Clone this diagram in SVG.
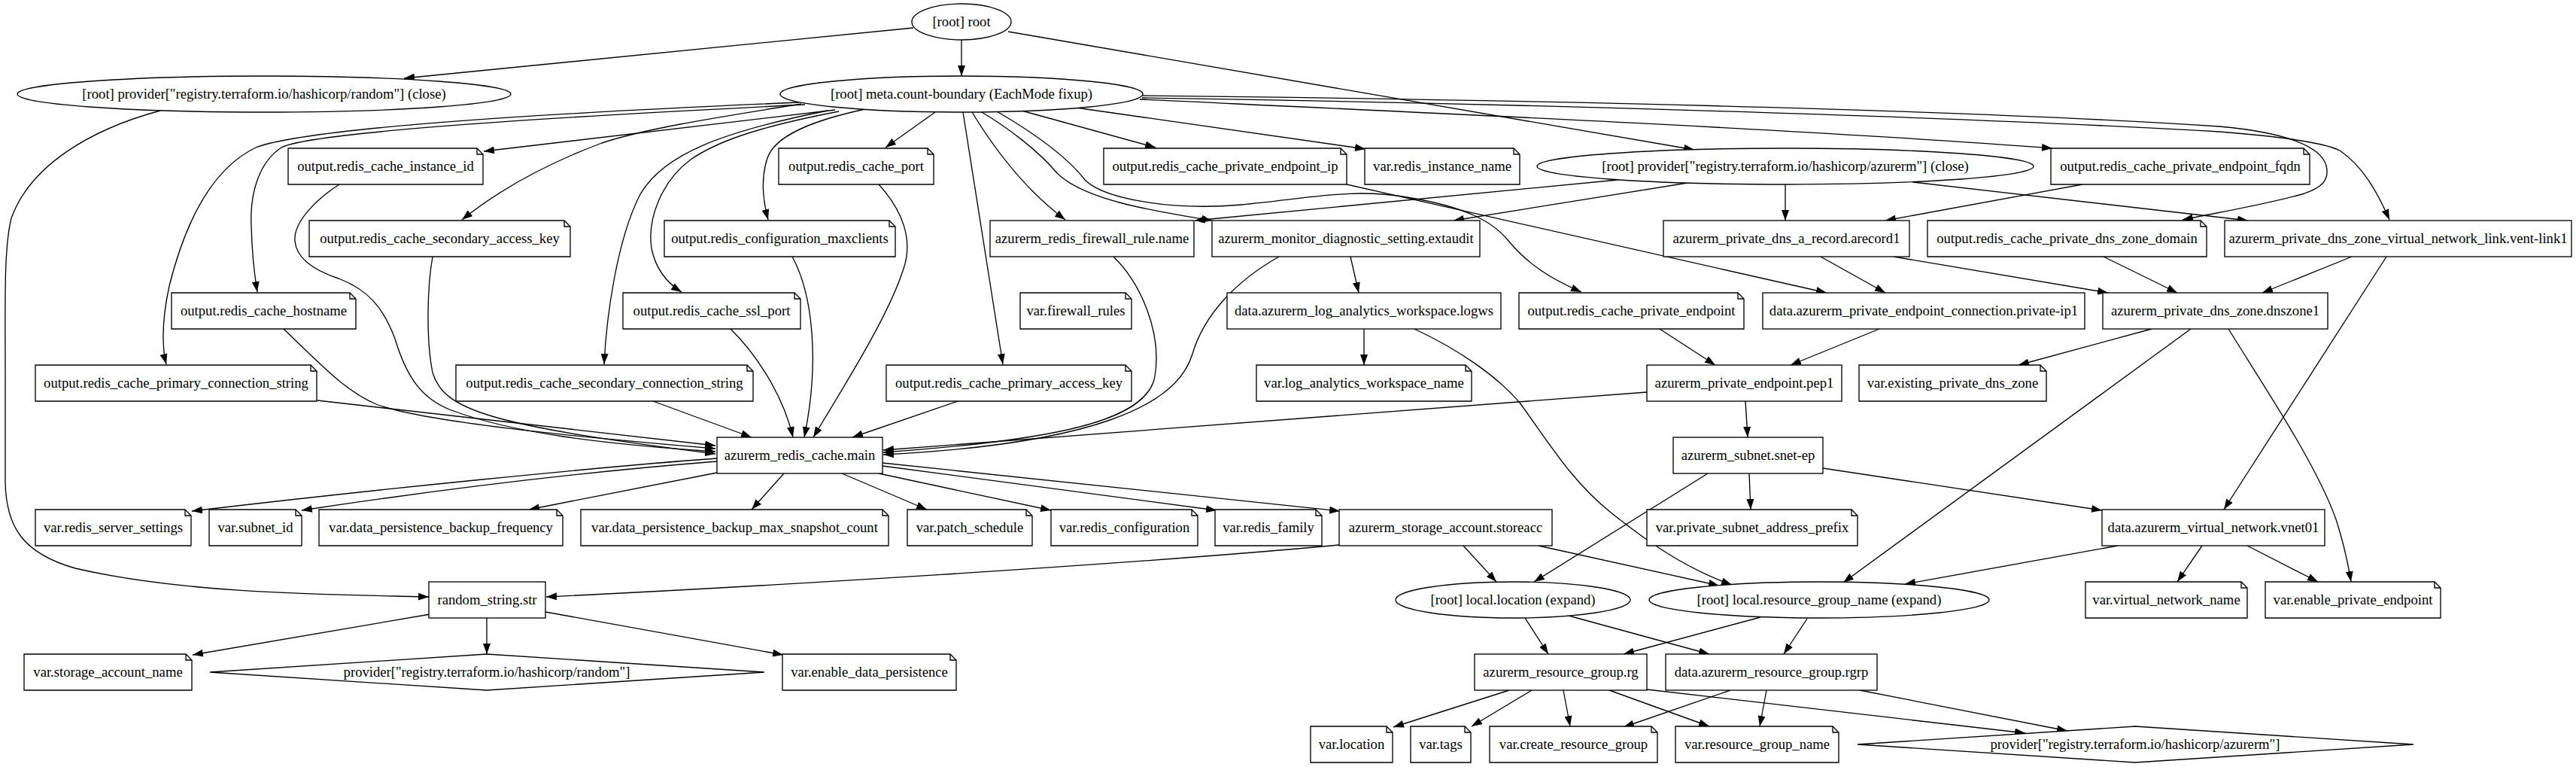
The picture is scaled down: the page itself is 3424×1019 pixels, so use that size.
<svg xmlns="http://www.w3.org/2000/svg" width="3424" height="1019" viewBox="0 0 3424 1019">
<style>
.s{fill:#fff;stroke:#000;stroke-width:1.33}
.f{fill:none;stroke:#000;stroke-width:1.33}
text{font-family:"Liberation Serif","Times New Roman",serif;font-size:18.67px;text-anchor:middle;fill:#000}
#edges path{fill:none;stroke:#000;stroke-width:1.33;marker-end:url(#ah)}
</style>
<defs>
<marker id="ah" markerWidth="14" markerHeight="10" refX="14" refY="5" orient="auto" markerUnits="userSpaceOnUse"><path d="M0,0 L14,5 L0,10 Z" fill="#000"/></marker>
</defs>
<rect width="3424" height="1019" fill="#fff"/>
<g id="edges">
<path d="M1214,37 L537,104"/>
<path d="M1278,53 L1278,101"/>
<path d="M1340,42 L2252,199"/>
<path d="M1062,136 C850,145 420,165 340,196 C280,225 245,300 225,380 C214,430 216,465 221,484"/>
<path d="M1070,139 C850,150 420,172 374,196 C345,215 332,255 334,300 C335,340 339,370 342,388"/>
<path d="M1110,146 L643,201"/>
<path d="M1065,138 C960,155 860,170 800,190 C720,220 660,255 614,292"/>
<path d="M1100,147 C960,175 880,205 850,260 C820,320 806,420 803,484"/>
<path d="M1115,148 C1000,170 950,190 918,212 C880,240 860,290 866,330 C872,360 890,378 906,388"/>
<path d="M1150,145 C1080,160 1030,180 1020,210 C1010,240 1015,270 1021,292"/>
<path d="M1243,149 L1177,196"/>
<path d="M1280,149 L1333,484"/>
<path d="M1292,149 C1320,195 1360,250 1416,292"/>
<path d="M1305,149 C1340,170 1380,200 1405,230 C1440,265 1530,280 1611,293"/>
<path d="M1325,148 C1380,180 1420,210 1443,240 C1470,265 1560,280 1650,272 C1750,262 1800,250 1870,262 C1950,275 1985,295 2005,320 C2030,350 2060,370 2102,388"/>
<path d="M1358,147 L1536,196"/>
<path d="M1430,143 L1815,198"/>
<path d="M1515,132 C1900,150 2400,172 2728,197"/>
<path d="M1517,127 C2000,132 2600,145 2950,168 C3040,176 3085,195 3092,220 C3097,240 3085,250 3060,258 C3010,272 2950,282 2901,292"/>
<path d="M1518,130 C2000,137 2600,155 2950,175 C3040,182 3090,190 3110,200 C3140,220 3160,255 3176,292"/>
<path d="M2150,239 L1588,293"/>
<path d="M2243,243 L1932,293"/>
<path d="M2373,245 L2373,293"/>
<path d="M2543,242 L2988,293"/>
<path d="M2768,245 L2506,293"/>
<path d="M2420,341 L2506,389"/>
<path d="M2517,341 L2802,389"/>
<path d="M1790,245 L2428,389"/>
<path d="M2796,341 L2894,389"/>
<path d="M3126,341 L3007,389"/>
<path d="M3172,341 L2956,677"/>
<path d="M2860,437 L2683,485"/>
<path d="M2912,437 L2450,774"/>
<path d="M2962,437 C3020,530 3080,620 3105,690 C3118,730 3122,755 3125,773"/>
<path d="M2927,725 L2894,773"/>
<path d="M2987,725 L3081,773"/>
<path d="M2815,725 L2532,776"/>
<path d="M2325,629 L2327,677"/>
<path d="M2423,622 L2794,678"/>
<path d="M2270,629 L2039,773"/>
<path d="M2320,533 L2323,581"/>
<path d="M2189,521 L1174,598"/>
<path d="M2498,437 L2380,485"/>
<path d="M2206,437 L2280,485"/>
<path d="M1795,341 L1806,389"/>
<path d="M1813,437 L1813,485"/>
<path d="M1880,437 C1940,465 1990,500 2020,535 C2060,590 2090,640 2140,680 C2190,720 2240,755 2302,777"/>
<path d="M2045,725 L2285,778"/>
<path d="M1945,725 L1989,773"/>
<path d="M1780,724 C1500,750 1000,780 726,793"/>
<path d="M1173,615 L1781,679"/>
<path d="M1173,619 L1617,678"/>
<path d="M1168,629 L1397,678"/>
<path d="M1119,629 L1232,677"/>
<path d="M1042,629 L999,677"/>
<path d="M953,628 L703,677"/>
<path d="M953,613 C800,625 600,648 401,678"/>
<path d="M953,609 C800,620 500,650 255,679"/>
<path d="M422,532 L951,592"/>
<path d="M377,437 C430,488 460,520 500,537 C560,560 760,580 951,596"/>
<path d="M451,245 C420,265 390,295 392,320 C394,345 420,360 450,370 C490,385 510,410 525,450 C540,500 560,530 600,545 C680,575 800,590 951,600"/>
<path d="M575,341 C568,380 566,450 575,495 C590,545 650,565 951,603"/>
<path d="M868,533 L999,581"/>
<path d="M971,437 C1000,465 1040,520 1054,581"/>
<path d="M1053,341 C1080,390 1090,480 1069,581"/>
<path d="M1168,245 C1200,280 1215,320 1200,360 C1180,420 1130,500 1081,581"/>
<path d="M1273,533 L1133,581"/>
<path d="M1480,341 C1515,375 1545,440 1535,500 C1525,560 1400,585 1174,601"/>
<path d="M1700,341 C1640,375 1600,420 1585,470 C1565,540 1450,590 1174,604"/>
<path d="M213,147 C120,172 40,220 15,290 C5,330 7,400 7,500 L7,640 C8,700 30,735 100,755 C250,790 450,790 570,793"/>
<path d="M572,816 L256,870"/>
<path d="M647,821 L647,869"/>
<path d="M725,813 L1041,870"/>
<path d="M2027,821 L2058,869"/>
<path d="M2085,818 L2272,869"/>
<path d="M2340,820 L2158,869"/>
<path d="M2402,822 L2371,869"/>
<path d="M2006,917 L1852,966"/>
<path d="M2036,917 L1956,965"/>
<path d="M2078,917 L2087,965"/>
<path d="M2139,917 L2272,965"/>
<path d="M2189,916 L2692,974"/>
<path d="M2300,917 L2158,966"/>
<path d="M2348,917 L2339,965"/>
<path d="M2472,917 L2748,971"/>
</g>
<g id="n_root"><ellipse class="s" cx="1278" cy="29" rx="66" ry="24"/><text x="1278" y="35">[root] root</text></g>
<g id="n_prov_random_close"><ellipse class="s" cx="351" cy="125" rx="328" ry="24"/><text x="351" y="131">[root] provider["registry.terraform.io/hashicorp/random"] (close)</text></g>
<g id="n_meta"><ellipse class="s" cx="1278" cy="125" rx="241" ry="24"/><text x="1278" y="131">[root] meta.count-boundary (EachMode fixup)</text></g>
<g id="n_out_instance_id"><path class="s" d="M383,197 H634 L642,205 V245 H383 Z"/><path class="f" d="M634,197 V205 H642"/><text x="512.5" y="227">output.redis_cache_instance_id</text></g>
<g id="n_out_port"><path class="s" d="M1035,197 H1233 L1241,205 V245 H1035 Z"/><path class="f" d="M1233,197 V205 H1241"/><text x="1138" y="227">output.redis_cache_port</text></g>
<g id="n_out_pe_ip"><path class="s" d="M1467,197 H1782 L1790,205 V245 H1467 Z"/><path class="f" d="M1782,197 V205 H1790"/><text x="1628.5" y="227">output.redis_cache_private_endpoint_ip</text></g>
<g id="n_var_instance_name"><path class="s" d="M1814,197 H2012 L2020,205 V245 H1814 Z"/><path class="f" d="M2012,197 V205 H2020"/><text x="1917" y="227">var.redis_instance_name</text></g>
<g id="n_prov_azurerm_close"><ellipse class="s" cx="2373" cy="221" rx="330" ry="24"/><text x="2373" y="227">[root] provider["registry.terraform.io/hashicorp/azurerm"] (close)</text></g>
<g id="n_out_pe_fqdn"><path class="s" d="M2726,197 H3062 L3070,205 V245 H2726 Z"/><path class="f" d="M3062,197 V205 H3070"/><text x="2898" y="227">output.redis_cache_private_endpoint_fqdn</text></g>
<g id="n_out_sec_key"><path class="s" d="M411,293 H750 L758,301 V341 H411 Z"/><path class="f" d="M750,293 V301 H758"/><text x="584.5" y="323">output.redis_cache_secondary_access_key</text></g>
<g id="n_out_maxclients"><path class="s" d="M883,293 H1182 L1190,301 V341 H883 Z"/><path class="f" d="M1182,293 V301 H1190"/><text x="1036.5" y="323">output.redis_configuration_maxclients</text></g>
<g id="n_firewall"><rect class="s" x="1316" y="293" width="271" height="48"/><text x="1451.5" y="323">azurerm_redis_firewall_rule.name</text></g>
<g id="n_extaudit"><rect class="s" x="1611" y="293" width="356" height="48"/><text x="1789" y="323">azurerm_monitor_diagnostic_setting.extaudit</text></g>
<g id="n_arecord1"><rect class="s" x="2211" y="293" width="327" height="48"/><text x="2374.5" y="323">azurerm_private_dns_a_record.arecord1</text></g>
<g id="n_out_dns_domain"><path class="s" d="M2562,293 H2925 L2933,301 V341 H2562 Z"/><path class="f" d="M2925,293 V301 H2933"/><text x="2747.5" y="323">output.redis_cache_private_dns_zone_domain</text></g>
<g id="n_ventlink"><rect class="s" x="2957" y="293" width="461" height="48"/><text x="3187.5" y="323">azurerm_private_dns_zone_virtual_network_link.vent-link1</text></g>
<g id="n_out_hostname"><path class="s" d="M228,389 H465 L473,397 V437 H228 Z"/><path class="f" d="M465,389 V397 H473"/><text x="350.5" y="419">output.redis_cache_hostname</text></g>
<g id="n_out_ssl_port"><path class="s" d="M828,389 H1056 L1064,397 V437 H828 Z"/><path class="f" d="M1056,389 V397 H1064"/><text x="946" y="419">output.redis_cache_ssl_port</text></g>
<g id="n_var_firewall_rules"><path class="s" d="M1356,389 H1496 L1504,397 V437 H1356 Z"/><path class="f" d="M1496,389 V397 H1504"/><text x="1430" y="419">var.firewall_rules</text></g>
<g id="n_logws"><rect class="s" x="1631" y="389" width="364" height="48"/><text x="1813" y="419">data.azurerm_log_analytics_workspace.logws</text></g>
<g id="n_out_pe"><path class="s" d="M2019,389 H2310 L2318,397 V437 H2019 Z"/><path class="f" d="M2310,389 V397 H2318"/><text x="2168.5" y="419">output.redis_cache_private_endpoint</text></g>
<g id="n_pip1"><rect class="s" x="2343" y="389" width="428" height="48"/><text x="2557" y="419">data.azurerm_private_endpoint_connection.private-ip1</text></g>
<g id="n_dnszone1"><rect class="s" x="2795" y="389" width="299" height="48"/><text x="2944.5" y="419">azurerm_private_dns_zone.dnszone1</text></g>
<g id="n_out_pri_conn"><path class="s" d="M47,485 H413 L421,493 V533 H47 Z"/><path class="f" d="M413,485 V493 H421"/><text x="234" y="515">output.redis_cache_primary_connection_string</text></g>
<g id="n_out_sec_conn"><path class="s" d="M606,485 H993 L1001,493 V533 H606 Z"/><path class="f" d="M993,485 V493 H1001"/><text x="803.5" y="515">output.redis_cache_secondary_connection_string</text></g>
<g id="n_out_pri_key"><path class="s" d="M1178,485 H1496 L1504,493 V533 H1178 Z"/><path class="f" d="M1496,485 V493 H1504"/><text x="1341" y="515">output.redis_cache_primary_access_key</text></g>
<g id="n_var_law"><path class="s" d="M1670,485 H1948 L1956,493 V533 H1670 Z"/><path class="f" d="M1948,485 V493 H1956"/><text x="1813" y="515">var.log_analytics_workspace_name</text></g>
<g id="n_pep1"><rect class="s" x="2189" y="485" width="259" height="48"/><text x="2318.5" y="515">azurerm_private_endpoint.pep1</text></g>
<g id="n_var_existing_dns"><path class="s" d="M2471,485 H2712 L2720,493 V533 H2471 Z"/><path class="f" d="M2712,485 V493 H2720"/><text x="2595.5" y="515">var.existing_private_dns_zone</text></g>
<g id="n_redis_main"><rect class="s" x="953" y="581" width="220" height="48"/><text x="1063" y="611">azurerm_redis_cache.main</text></g>
<g id="n_snet"><rect class="s" x="2224" y="581" width="199" height="48"/><text x="2323.5" y="611">azurerm_subnet.snet-ep</text></g>
<g id="n_var_server_settings"><path class="s" d="M47,677 H246 L254,685 V725 H47 Z"/><path class="f" d="M246,677 V685 H254"/><text x="150.5" y="707">var.redis_server_settings</text></g>
<g id="n_var_subnet_id"><path class="s" d="M278,677 H393 L401,685 V725 H278 Z"/><path class="f" d="M393,677 V685 H401"/><text x="339.5" y="707">var.subnet_id</text></g>
<g id="n_var_backup_freq"><path class="s" d="M424,677 H740 L748,685 V725 H424 Z"/><path class="f" d="M740,677 V685 H748"/><text x="586" y="707">var.data_persistence_backup_frequency</text></g>
<g id="n_var_max_snap"><path class="s" d="M772,677 H1173 L1181,685 V725 H772 Z"/><path class="f" d="M1173,677 V685 H1181"/><text x="976.5" y="707">var.data_persistence_backup_max_snapshot_count</text></g>
<g id="n_var_patch"><path class="s" d="M1206,677 H1364 L1372,685 V725 H1206 Z"/><path class="f" d="M1364,677 V685 H1372"/><text x="1289" y="707">var.patch_schedule</text></g>
<g id="n_var_redis_conf"><path class="s" d="M1397,677 H1584 L1592,685 V725 H1397 Z"/><path class="f" d="M1584,677 V685 H1592"/><text x="1494.5" y="707">var.redis_configuration</text></g>
<g id="n_var_redis_family"><path class="s" d="M1615,677 H1749 L1757,685 V725 H1615 Z"/><path class="f" d="M1749,677 V685 H1757"/><text x="1686" y="707">var.redis_family</text></g>
<g id="n_storeacc"><rect class="s" x="1780" y="677" width="283" height="48"/><text x="1921.5" y="707">azurerm_storage_account.storeacc</text></g>
<g id="n_var_priv_prefix"><path class="s" d="M2189,677 H2461 L2469,685 V725 H2189 Z"/><path class="f" d="M2461,677 V685 H2469"/><text x="2329" y="707">var.private_subnet_address_prefix</text></g>
<g id="n_vnet01"><rect class="s" x="2794" y="677" width="296" height="48"/><text x="2942" y="707">data.azurerm_virtual_network.vnet01</text></g>
<g id="n_random_str"><rect class="s" x="570" y="773" width="155" height="48"/><text x="647.5" y="803">random_string.str</text></g>
<g id="n_local_location"><ellipse class="s" cx="2011" cy="797" rx="156" ry="24"/><text x="2011" y="803">[root] local.location (expand)</text></g>
<g id="n_local_rgname"><ellipse class="s" cx="2418" cy="797" rx="226" ry="24"/><text x="2418" y="803">[root] local.resource_group_name (expand)</text></g>
<g id="n_var_vnet_name"><path class="s" d="M2772,773 H2979 L2987,781 V821 H2772 Z"/><path class="f" d="M2979,773 V781 H2987"/><text x="2879.5" y="803">var.virtual_network_name</text></g>
<g id="n_var_enable_pe"><path class="s" d="M3011,773 H3236 L3244,781 V821 H3011 Z"/><path class="f" d="M3236,773 V781 H3244"/><text x="3127.5" y="803">var.enable_private_endpoint</text></g>
<g id="n_var_sa_name"><path class="s" d="M32,869 H247 L255,877 V917 H32 Z"/><path class="f" d="M247,869 V877 H255"/><text x="143.5" y="899">var.storage_account_name</text></g>
<g id="n_prov_random"><polygon class="s" points="647,869 1016,893 647,917 279,893"/><text x="647" y="899">provider["registry.terraform.io/hashicorp/random"]</text></g>
<g id="n_var_enable_dp"><path class="s" d="M1040,869 H1263 L1271,877 V917 H1040 Z"/><path class="f" d="M1263,869 V877 H1271"/><text x="1155.5" y="899">var.enable_data_persistence</text></g>
<g id="n_rg"><rect class="s" x="1960" y="869" width="229" height="48"/><text x="2074.5" y="899">azurerm_resource_group.rg</text></g>
<g id="n_rgrp"><rect class="s" x="2214" y="869" width="281" height="48"/><text x="2354.5" y="899">data.azurerm_resource_group.rgrp</text></g>
<g id="n_var_location"><path class="s" d="M1742,965 H1843 L1851,973 V1013 H1742 Z"/><path class="f" d="M1843,965 V973 H1851"/><text x="1796.5" y="995">var.location</text></g>
<g id="n_var_tags"><path class="s" d="M1875,965 H1947 L1955,973 V1013 H1875 Z"/><path class="f" d="M1947,965 V973 H1955"/><text x="1915" y="995">var.tags</text></g>
<g id="n_var_create_rg"><path class="s" d="M1980,965 H2195 L2203,973 V1013 H1980 Z"/><path class="f" d="M2195,965 V973 H2203"/><text x="2091.5" y="995">var.create_resource_group</text></g>
<g id="n_var_rg_name"><path class="s" d="M2227,965 H2436 L2444,973 V1013 H2227 Z"/><path class="f" d="M2436,965 V973 H2444"/><text x="2335.5" y="995">var.resource_group_name</text></g>
<g id="n_prov_azurerm"><polygon class="s" points="2838,965 3208,989 2838,1013 2469,989"/><text x="2838" y="995">provider["registry.terraform.io/hashicorp/azurerm"]</text></g>
</svg>
